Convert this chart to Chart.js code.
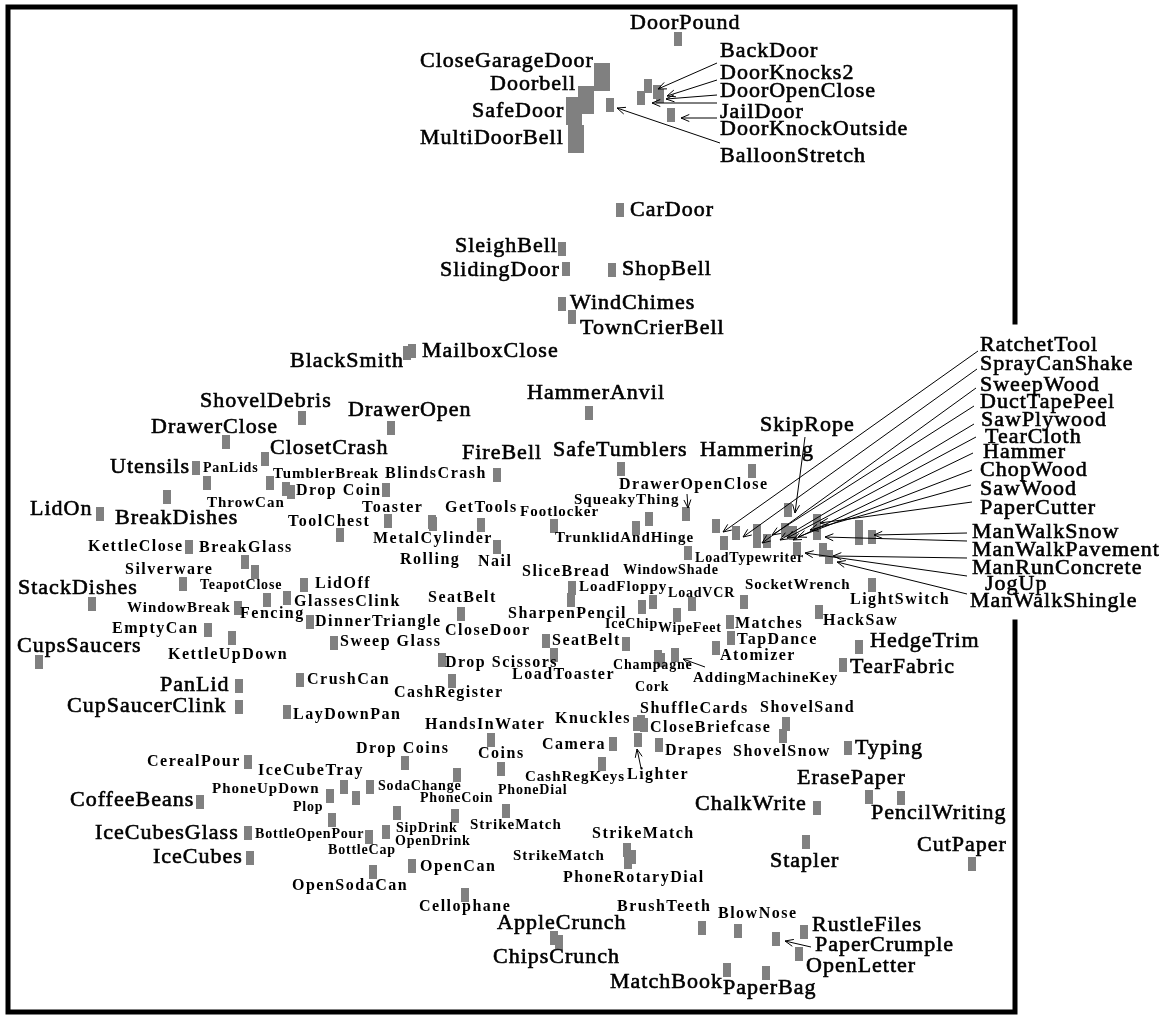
<!DOCTYPE html>
<html>
<head>
<meta charset="utf-8">
<script src="https://cdn.jsdelivr.net/npm/chart.js@4.4.0/dist/chart.umd.min.js"></script>
<style>
  html, body { margin: 0; padding: 0; background: #fff; }
  canvas { display: block; }
</style>
</head>
<body>
<canvas id="soundMap" width="1172" height="1015"></canvas>
<script>
// sound map: each point is a sound, placed in the 2-D similarity space

// doors and bells (top of the map)
var topSounds = [
  ['DoorPound', 678, 39], ['CloseGarageDoor', 602, 77], ['Doorbell', 586, 100],
  ['SafeDoor', 574, 111], ['MultiDoorBell', 576, 139], ['BackDoor', 648, 86],
  ['DoorKnocks2', 657, 92], ['DoorOpenClose', 660, 96], ['JailDoor', 641, 98],
  ['DoorKnockOutside', 671, 115], ['BalloonStretch', 610, 105], ['CarDoor', 620, 210],
  ['SleighBell', 562, 249], ['SlidingDoor', 566, 269], ['ShopBell', 612, 270],
  ['WindChimes', 562, 304], ['TownCrierBell', 572, 317], ['BlackSmith', 407, 353],
  ['MailboxClose', 412, 351], ['HammerAnvil', 589, 413]
];

// kitchen and household (left)
var leftSounds = [
  ['ShovelDebris', 302, 418], ['DrawerOpen', 391, 428], ['DrawerClose', 226, 442],
  ['ClosetCrash', 265, 459], ['Utensils', 196, 468], ['PanLids', 207, 483],
  ['TumblerBreak', 270, 483], ['ThrowCan', 286, 489], ['Drop Coin', 291, 492],
  ['BlindsCrash', 386, 490], ['BreakDishes', 167, 497], ['LidOn', 100, 514],
  ['Toaster', 388, 521], ['ToolChest', 340, 535], ['MetalCylinder', 432, 522],
  ['Rolling', 433, 524], ['GetTools', 481, 525], ['Nail', 497, 547],
  ['KettleClose', 189, 547], ['BreakGlass', 245, 562], ['Fencing', 255, 572],
  ['Silverware', 183, 584], ['TeapotClose', 267, 600], ['LidOff', 304, 585],
  ['StackDishes', 92, 604], ['WindowBreak', 238, 608], ['GlassesClink', 287, 598],
  ['DinnerTriangle', 310, 622], ['EmptyCan', 208, 630], ['KettleUpDown', 232, 638],
  ['Sweep Glass', 334, 643], ['CupsSaucers', 39, 662], ['PanLid', 239, 686],
  ['CupSaucerClink', 239, 707], ['CrushCan', 300, 680], ['LayDownPan', 287, 712],
  ['CashRegister', 452, 681], ['Drop Scissors', 442, 660], ['SeatBelt', 461, 614],
  ['CloseDoor', 546, 641], ['LoadToaster', 554, 655]
];

// mechanical things (centre)
var centerSounds = [
  ['FireBell', 497, 475], ['SafeTumblers', 621, 469], ['Hammering', 752, 471],
  ['DrawerOpenClose', 686, 514], ['SqueakyThing', 649, 519], ['Footlocker', 554, 526],
  ['TrunklidAndHinge', 636, 528], ['LoadTypewriter', 688, 553], ['WindowShade', 724, 543],
  ['SliceBread', 653, 602], ['LoadFloppy', 572, 588], ['SharpenPencil', 571, 600],
  ['LoadVCR', 692, 604], ['SocketWrench', 744, 602], ['IceChip', 642, 607],
  ['WipeFeet', 677, 615], ['Matches', 730, 622], ['TapDance', 731, 638],
  ['Atomizer', 716, 648], ['SeatBelt', 626, 644], ['Champagne', 658, 657],
  ['Cork', 661, 660], ['AddingMachineKey', 675, 655], ['HackSaw', 819, 612],
  ['LightSwitch', 872, 585], ['HedgeTrim', 859, 647], ['TearFabric', 843, 665]
];

// tools and footsteps (right cluster)
var toolSounds = [
  ['SkipRope', 788, 510], ['RatchetTool', 716, 526], ['SprayCanShake', 736, 533],
  ['SweepWood', 757, 531], ['DuctTapePeel', 757, 541], ['SawPlywood', 767, 541],
  ['TearCloth', 785, 530], ['Hammer', 793, 533], ['ChopWood', 797, 549],
  ['SawWood', 817, 521], ['PaperCutter', 817, 533], ['ManWalkSnow', 872, 537],
  ['ManWalkPavement', 859, 527], ['ManRunConcrete', 859, 538], ['JogUp', 823, 550],
  ['ManWalkShingle', 829, 557]
];

// drinks, paper, small objects (bottom)
var bottomSounds = [
  ['HandsInWater', 491, 740], ['Drop Coins', 405, 763], ['Coins', 501, 769],
  ['CerealPour', 248, 762], ['CoffeeBeans', 200, 802], ['IceCubesGlass', 248, 833],
  ['IceCubes', 250, 858], ['PhoneUpDown', 330, 796], ['IceCubeTray', 344, 787],
  ['SodaChange', 356, 798], ['PhoneCoin', 370, 787], ['Plop', 332, 820],
  ['BottleOpenPour', 369, 837], ['BottleCap', 386, 832], ['SipDrink', 397, 813],
  ['PhoneDial', 457, 775], ['OpenDrink', 455, 816], ['StrikeMatch', 506, 811],
  ['OpenSodaCan', 373, 872], ['OpenCan', 412, 866], ['Cellophane', 465, 895],
  ['AppleCrunch', 554, 938], ['ChipsCrunch', 559, 942], ['CashRegKeys', 602, 764],
  ['Camera', 613, 744], ['Knuckles', 637, 724], ['ShuffleCards', 641, 722],
  ['CloseBriefcase', 644, 725], ['Lighter', 638, 740], ['Drapes', 659, 745],
  ['ShovelSand', 786, 724], ['ShovelSnow', 783, 736], ['Typing', 848, 748],
  ['ErasePaper', 869, 797], ['PencilWriting', 901, 798], ['ChalkWrite', 817, 808],
  ['Stapler', 806, 842], ['CutPaper', 972, 864], ['StrikeMatch', 627, 850],
  ['StrikeMatch', 632, 857], ['PhoneRotaryDial', 628, 862], ['BrushTeeth', 702, 928],
  ['BlowNose', 738, 931], ['RustleFiles', 804, 932], ['PaperCrumple', 776, 939],
  ['OpenLetter', 799, 954], ['MatchBook', 727, 970], ['PaperBag', 766, 973]
];

// ---- annotation layout (text, left x, middle y, font class) ----
var labelLayout = [
  ['DoorPound', 630, 23, 'L'], ['CloseGarageDoor', 420, 61, 'L'], ['Doorbell', 490, 84, 'L'],
  ['SafeDoor', 472, 111, 'L'], ['MultiDoorBell', 420, 138, 'L'], ['BackDoor', 720, 51, 'L'],
  ['DoorKnocks2', 720, 73, 'L'], ['DoorOpenClose', 720, 91, 'L'], ['JailDoor', 720, 112, 'L'],
  ['DoorKnockOutside', 720, 129, 'L'], ['BalloonStretch', 720, 156, 'L'], ['CarDoor', 630, 210, 'L'],
  ['SleighBell', 455, 246, 'L'], ['SlidingDoor', 440, 270, 'L'], ['ShopBell', 622, 269, 'L'],
  ['WindChimes', 570, 303, 'L'], ['TownCrierBell', 580, 328, 'L'], ['BlackSmith', 290, 361, 'L'],
  ['MailboxClose', 422, 351, 'L'], ['HammerAnvil', 527, 393, 'L'],

  ['ShovelDebris', 200, 401, 'L'], ['DrawerOpen', 348, 410, 'L'], ['DrawerClose', 151, 427, 'L'],
  ['ClosetCrash', 270, 448, 'L'], ['Utensils', 110, 467, 'L'], ['PanLids', 203, 468, 'S'],
  ['TumblerBreak', 273, 474, 'm'], ['BlindsCrash', 385, 474, 'M'], ['Drop Coin', 296, 491, 'M'],
  ['ThrowCan', 207, 503, 'm'], ['LidOn', 30, 509, 'L'], ['BreakDishes', 115, 518, 'L'],
  ['Toaster', 362, 508, 'M'], ['ToolChest', 288, 522, 'M'], ['GetTools', 445, 508, 'M'],
  ['MetalCylinder', 373, 539, 'M'], ['Rolling', 400, 560, 'M'], ['Nail', 478, 562, 'M'],
  ['KettleClose', 88, 547, 'M'], ['BreakGlass', 199, 548, 'M'], ['Silverware', 125, 570, 'M'],
  ['TeapotClose', 200, 585, 'S'], ['LidOff', 315, 584, 'M'], ['StackDishes', 18, 588, 'L'],
  ['GlassesClink', 294, 602, 'M'], ['WindowBreak', 127, 608, 'm'], ['Fencing', 240, 614, 'M'],
  ['DinnerTriangle', 315, 622, 'M'], ['EmptyCan', 112, 629, 'M'], ['Sweep Glass', 340, 642, 'M'],
  ['CupsSaucers', 17, 646, 'L'], ['KettleUpDown', 168, 655, 'M'], ['PanLid', 160, 685, 'L'],
  ['CupSaucerClink', 67, 706, 'L'], ['CrushCan', 307, 680, 'M'], ['LayDownPan', 293, 715, 'M'],
  ['CashRegister', 394, 693, 'M'], ['Drop Scissors', 445, 663, 'M'], ['SeatBelt', 428, 598, 'M'],
  ['CloseDoor', 445, 631, 'M'], ['LoadToaster', 512, 675, 'M'], ['SeatBelt', 552, 641, 'M'],

  ['FireBell', 462, 453, 'L'], ['SafeTumblers', 553, 450, 'L'], ['Hammering', 700, 450, 'L'],
  ['SkipRope', 760, 425, 'L'], ['DrawerOpenClose', 619, 485, 'M'], ['SqueakyThing', 574, 500, 'm'],
  ['Footlocker', 520, 512, 'm'], ['TrunklidAndHinge', 555, 538, 'm'], ['LoadTypewriter', 695, 558, 'S'],
  ['WindowShade', 623, 570, 'S'], ['SliceBread', 522, 572, 'M'], ['LoadFloppy', 579, 587, 'm'],
  ['LoadVCR', 668, 593, 'S'], ['SocketWrench', 745, 585, 'm'], ['LightSwitch', 850, 600, 'M'],
  ['SharpenPencil', 508, 614, 'M'], ['IceChip', 605, 624, 'S'], ['WipeFeet', 658, 628, 'S'],
  ['Matches', 735, 624, 'M'], ['HackSaw', 823, 621, 'M'], ['TapDance', 737, 640, 'M'],
  ['HedgeTrim', 870, 641, 'L'], ['Atomizer', 720, 656, 'M'], ['Champagne', 613, 665, 'S'],
  ['TearFabric', 850, 667, 'L'], ['AddingMachineKey', 693, 678, 'm'], ['Cork', 635, 687, 'S'],

  ['RatchetTool', 980, 345, 'L'], ['SprayCanShake', 980, 364, 'L'], ['SweepWood', 980, 385, 'L'],
  ['DuctTapePeel', 980, 402, 'L'], ['SawPlywood', 981, 420, 'L'], ['TearCloth', 985, 437, 'L'],
  ['Hammer', 983, 452, 'L'], ['ChopWood', 980, 470, 'L'], ['SawWood', 980, 489, 'L'],
  ['PaperCutter', 980, 508, 'L'], ['ManWalkSnow', 972, 532, 'L'], ['ManWalkPavement', 972, 550, 'L'],
  ['ManRunConcrete', 972, 568, 'L'], ['JogUp', 985, 584, 'L'], ['ManWalkShingle', 970, 601, 'L'],

  ['HandsInWater', 425, 725, 'M'], ['Drop Coins', 356, 749, 'M'], ['Coins', 478, 754, 'M'],
  ['IceCubeTray', 258, 771, 'M'], ['CerealPour', 147, 762, 'M'], ['PhoneUpDown', 212, 789, 'm'],
  ['Plop', 293, 807, 'S'], ['SodaChange', 378, 786, 'S'], ['PhoneCoin', 420, 798, 'S'],
  ['PhoneDial', 498, 790, 'S'], ['CashRegKeys', 525, 777, 'm'], ['CoffeeBeans', 70, 800, 'L'],
  ['SipDrink', 396, 828, 'S'], ['OpenDrink', 395, 841, 'S'], ['StrikeMatch', 470, 825, 'm'],
  ['BottleOpenPour', 255, 834, 'S'], ['BottleCap', 328, 850, 'S'], ['IceCubesGlass', 95, 833, 'L'],
  ['IceCubes', 153, 857, 'L'], ['OpenCan', 420, 867, 'M'], ['OpenSodaCan', 292, 886, 'M'],
  ['Cellophane', 419, 907, 'M'], ['AppleCrunch', 497, 923, 'L'], ['ChipsCrunch', 493, 957, 'L'],
  ['StrikeMatch', 513, 856, 'm'], ['PhoneRotaryDial', 563, 878, 'M'], ['StrikeMatch', 592, 834, 'M'],
  ['Knuckles', 555, 719, 'M'], ['ShuffleCards', 640, 709, 'M'], ['CloseBriefcase', 650, 728, 'M'],
  ['Camera', 542, 745, 'M'], ['Drapes', 665, 751, 'M'], ['Lighter', 627, 775, 'M'],
  ['ShovelSand', 760, 708, 'M'], ['ShovelSnow', 733, 752, 'M'], ['Typing', 855, 748, 'L'],
  ['ErasePaper', 797, 778, 'L'], ['ChalkWrite', 695, 804, 'L'], ['PencilWriting', 871, 813, 'L'],
  ['CutPaper', 917, 845, 'L'], ['Stapler', 770, 861, 'L'], ['BrushTeeth', 617, 907, 'M'],
  ['BlowNose', 718, 914, 'M'], ['RustleFiles', 812, 925, 'L'], ['PaperCrumple', 815, 945, 'L'],
  ['OpenLetter', 806, 966, 'L'], ['MatchBook', 610, 982, 'L'], ['PaperBag', 723, 988, 'L']
];

// leader arrows: from label (x1,y1) to point (x2,y2)
var arrowLayout = [
  [717, 63, 658, 89], [717, 80, 667, 96], [717, 95, 666, 99], [717, 103, 652, 103],
  [717, 118, 681, 118], [720, 143, 617, 108],
  [805, 437, 795, 513], [687, 494, 688, 508], [705, 667, 683, 659],
  [641, 768, 637, 749], [811, 947, 785, 941],
  [978, 351, 723, 532], [977, 369, 743, 537], [976, 388, 762, 543], [974, 406, 772, 535],
  [974, 424, 780, 540], [976, 437, 787, 538], [973, 453, 793, 540], [972, 470, 798, 537],
  [971, 485, 810, 530], [972, 502, 820, 523],
  [967, 533, 874, 535], [967, 541, 825, 537], [967, 558, 833, 556],
  [967, 576, 805, 553], [967, 594, 837, 562]
];

var bigMarkers = ['CloseGarageDoor', 'Doorbell', 'SafeDoor', 'MultiDoorBell'];
var frameGap = [322, 622];   // the right border is open behind the tool labels

var fonts = {
  L: { font: 'normal 22px "Liberation Serif"', spacing: '1px', stroke: 0.6 },
  M: { font: 'bold 16px "Liberation Serif"', spacing: '1.5px', stroke: 0 },
  m: { font: 'bold 15px "Liberation Serif"', spacing: '1px', stroke: 0 },
  S: { font: 'bold 14px "Liberation Serif"', spacing: '0.8px', stroke: 0 }
};

function makeMarker(w, h) {
  var c = document.createElement('canvas');
  c.width = w;
  c.height = h;
  var g = c.getContext('2d');
  g.fillStyle = '#808080';
  g.fillRect(0, 0, w, h);
  return c;
}
var smallMarker = makeMarker(8, 14);
var bigMarker = makeMarker(16, 28);

var allSounds = [].concat(topSounds, leftSounds, centerSounds, toolSounds, bottomSounds);

function arrow(ctx, x1, y1, x2, y2) {
  var a = Math.atan2(y2 - y1, x2 - x1);
  var len = 9;
  ctx.beginPath();
  ctx.moveTo(x1, y1);
  ctx.lineTo(x2, y2);
  ctx.moveTo(x2 - len * Math.cos(a - 0.4), y2 - len * Math.sin(a - 0.4));
  ctx.lineTo(x2, y2);
  ctx.lineTo(x2 - len * Math.cos(a + 0.4), y2 - len * Math.sin(a + 0.4));
  ctx.stroke();
}

var annotations = {
  id: 'annotations',
  afterDatasetsDraw: function (chart) {
    var ctx = chart.ctx;
    var xs = chart.scales.x, ys = chart.scales.y;
    ctx.save();
    ctx.fillStyle = '#000';
    ctx.strokeStyle = '#000';
    ctx.textAlign = 'left';
    ctx.textBaseline = 'middle';
    labelLayout.forEach(function (l) {
      var f = fonts[l[3]];
      var px = xs.getPixelForValue(l[1]), py = ys.getPixelForValue(l[2]);
      ctx.font = f.font;
      ctx.letterSpacing = f.spacing;
      ctx.fillText(l[0], px, py);
      if (f.stroke) {
        ctx.lineWidth = f.stroke;
        ctx.strokeText(l[0], px, py);
      }
    });
    ctx.lineWidth = 1;
    arrowLayout.forEach(function (a) {
      arrow(ctx, xs.getPixelForValue(a[0]), ys.getPixelForValue(a[1]),
        xs.getPixelForValue(a[2]), ys.getPixelForValue(a[3]));
    });
    ctx.restore();
  },
  afterDraw: function (chart) {
    var ctx = chart.ctx, area = chart.chartArea, ys = chart.scales.y;
    ctx.save();
    ctx.strokeStyle = '#000';
    ctx.lineWidth = 5;
    ctx.lineCap = 'square';
    ctx.beginPath();
    ctx.moveTo(area.right, ys.getPixelForValue(frameGap[0]));
    ctx.lineTo(area.right, area.top);
    ctx.lineTo(area.left, area.top);
    ctx.lineTo(area.left, area.bottom);
    ctx.lineTo(area.right, area.bottom);
    ctx.lineTo(area.right, ys.getPixelForValue(frameGap[1]));
    ctx.stroke();
    ctx.restore();
  }
};

var ctx = document.getElementById('soundMap').getContext('2d');

var soundChart = new Chart(ctx, {
  type: 'scatter',
  data: {
    datasets: [{
      label: 'Sounds',
      data: allSounds.map(function (s) { return { x: s[1], y: s[2], name: s[0] }; }),
      pointStyle: function (c) {
        var p = c.raw;
        return p && bigMarkers.indexOf(p.name) >= 0 ? bigMarker : smallMarker;
      },
      pointRadius: 5
    }]
  },
  options: {
    responsive: false,
    animation: false,
    layout: { padding: { left: 8, top: 7, right: 157, bottom: 3 }, autoPadding: false },
    plugins: { legend: { display: false }, tooltip: { enabled: false } },
    scales: {
      x: { type: 'linear', min: 8, max: 1015, display: false },
      y: { type: 'linear', min: 7, max: 1012, reverse: true, display: false }
    }
  },
  plugins: [annotations]
});
</script>
</body>
</html>
